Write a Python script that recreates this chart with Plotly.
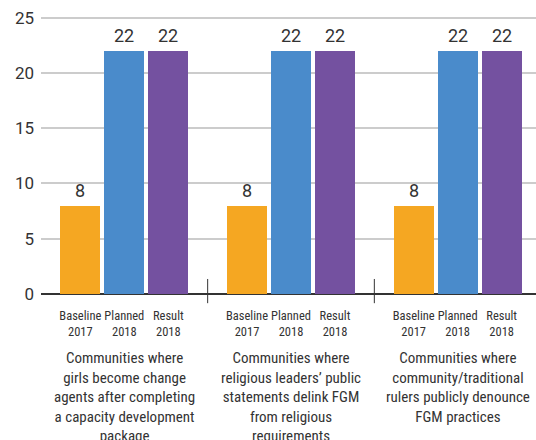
import plotly.graph_objects as go

groups = [
    "Communities where<br>girls become change<br>agents after completing<br>a capacity development<br>package",
    "Communities where<br>religious leaders’ public<br>statements delink FGM<br>from religious<br>requirements",
    "Communities where<br>community/traditional<br>rulers publicly denounce<br>FGM practices",
]
series = ["Baseline<br>2017", "Planned<br>2018", "Result<br>2018"]
colors = ["#F5A722", "#4A8BCB", "#7451A0"]
values = [
    [8, 8, 8],     # Baseline 2017
    [22, 22, 22],  # Planned 2018
    [22, 22, 22],  # Result 2018
]

pitch = 0.264
width = 0.24
font = "Roboto Condensed, Liberation Sans Narrow, DejaVu Sans Condensed, Roboto, sans-serif"
num_font = "Roboto, sans-serif"
text_col = "#333333"

fig = go.Figure()
tickvals, ticktext = [], []
for i, (name, col, vals) in enumerate(zip(series, colors, values)):
    xs = [g + (i - 1) * pitch for g in range(len(groups))]
    fig.add_trace(go.Bar(x=xs, y=vals, width=width, marker=dict(color=col, line=dict(width=0)),
                         name=name.replace("<br>", " "), showlegend=False))
    for x, v in zip(xs, vals):
        fig.add_annotation(x=x, y=v, text=str(v), showarrow=False, yanchor="bottom", yshift=3,
                           font=dict(size=18, color=text_col, family=num_font))
    tickvals += xs
    ticktext += [name] * len(xs)

for g, label in enumerate(groups):
    fig.add_annotation(x=g, y=-0.19, xref="x", yref="paper", text=label, showarrow=False,
                       yanchor="top", align="center",
                       font=dict(size=15, color=text_col, family=font))

# group dividers
for g in range(len(groups) - 1):
    fig.add_shape(type="line", x0=g + 0.5, x1=g + 0.5, y0=-0.033, y1=0.054,
                  xref="x", yref="paper", line=dict(color="#333333", width=1))

fig.update_xaxes(range=[-0.5, 2.47], tickvals=tickvals, ticktext=ticktext, showgrid=False,
                 zeroline=False, showline=False, ticks="", automargin=False,
                 ticklabelstandoff=12,
                 tickfont=dict(size=12.5, color=text_col, family=font))
fig.update_yaxes(range=[0, 25.15], tickvals=[0, 5, 10, 15, 20, 25], showgrid=True,
                 gridcolor="#cccccc", gridwidth=1.5, zeroline=True, zerolinecolor="#333333",
                 zerolinewidth=2, tickfont=dict(size=17, color=text_col, family=num_font),
                 ticks="", ticklabelstandoff=6, automargin=False)
fig.update_layout(
    width=536, height=440, bargap=0, barmode="overlay",
    margin=dict(l=41, r=0, t=16, b=146, autoexpand=False),
    plot_bgcolor="white", paper_bgcolor="white",
)
# drop the default page margin so the figure sits at the window corner
fig.write_html("out.html", config={"displayModeBar": False},
               post_script="document.body.style.margin='0';")
